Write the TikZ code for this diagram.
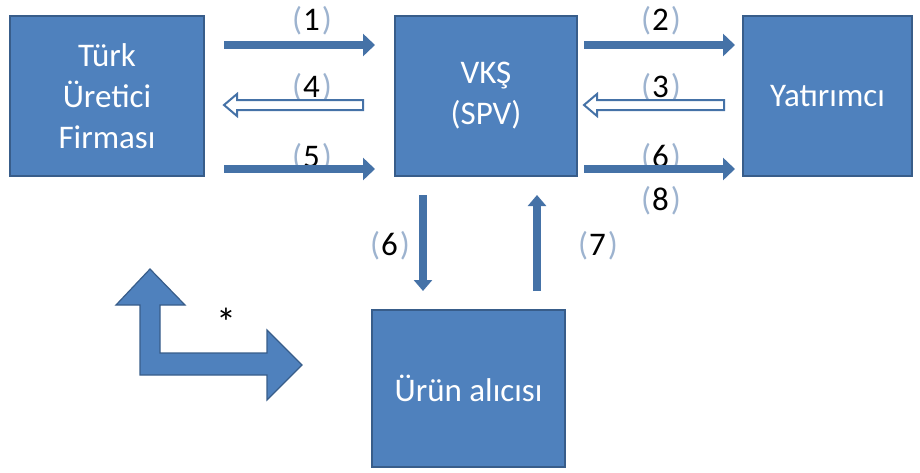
\documentclass[tikz,border=0pt]{standalone}
\usepackage{fontspec}
\setmainfont{Carlito}
\usetikzlibrary{arrows.meta}
\definecolor{boxblue}{HTML}{4F81BD}
\definecolor{boxedge}{HTML}{385D8A}
\definecolor{arrowblue}{HTML}{4572A7}
\definecolor{parencol}{HTML}{9DB3CF}
% step number in light brackets
\newcommand{\stepno}[1]{\textcolor{parencol}{(}\kern1pt#1\kern2pt\textcolor{parencol}{)}}
\begin{document}
\begin{tikzpicture}[x=1pt,y=-1pt,
  box/.style={fill=boxblue, draw=boxedge, line width=1.5pt, text=white,
    align=center, inner sep=0pt, font=\fontsize{33}{41}\selectfont},
  lbl/.style={anchor=base, inner sep=0pt, text=black, font=\fontsize{33}{41}\selectfont},
  solidarrow/.style={draw=arrowblue, line width=7.5pt, -{Triangle[width=22pt,length=12pt]}},
  vertarrow/.style={draw=arrowblue, line width=8pt, -{Triangle[width=18pt,length=11pt]}},
  hollowarrow/.style={fill=white, draw=arrowblue, line width=2pt, line join=miter},
  bentarrow/.style={fill=boxblue, draw=boxedge, line width=1.2pt, line join=miter}
]
\useasboundingbox (0,0) rectangle (920,472);

% main boxes
\node[box, minimum width=194pt, minimum height=160pt] (turk) at (107,96)
  {Türk\\Üretici\\Firması};
\node[box, minimum width=182pt, minimum height=160pt] (vks) at (486,96)
  {VKŞ\\(SPV)};
\node[box, minimum width=169pt, minimum height=160pt] (yat) at (827.5,96)
  {Yatırımcı};
\node[box, minimum width=193pt, minimum height=157pt] (urun) at (468.5,388.5)
  {Ürün alıcısı};

% step labels
\node[lbl] (l1) at (312,30) {\stepno{1}};
\node[lbl] (l4) at (312,97) {\stepno{4}};
\node[lbl] (l5) at (312,167) {\stepno{5}};
\node[lbl] (l2) at (661,30) {\stepno{2}};
\node[lbl] (l3) at (661,97) {\stepno{3}};
\node[lbl] (l6) at (661,167) {\stepno{6}};
\node[lbl] (l8) at (661,210) {\stepno{8}};
\node[lbl] (l6b) at (390,255) {\stepno{6}};
\node[lbl] (l7) at (598,255) {\stepno{7}};

% arrow end points
\coordinate (a1s) at (224,45);  \coordinate (a1e) at (375,45);
\coordinate (a4s) at (363,105); \coordinate (a4e) at (224,105);
\coordinate (a5s) at (224,169); \coordinate (a5e) at (375,169);
\coordinate (a2s) at (584,45);  \coordinate (a2e) at (735,45);
\coordinate (a3s) at (724,105); \coordinate (a3e) at (584,105);
\coordinate (a6s) at (584,169); \coordinate (a6e) at (735,169);
\coordinate (d6s) at (423,195); \coordinate (d6e) at (423,291);
\coordinate (u7s) at (537,291); \coordinate (u7e) at (537,195);

% solid arrows
\draw[solidarrow] (a1s) -- (a1e);
\draw[solidarrow] (a5s) -- (a5e);
\draw[solidarrow] (a2s) -- (a2e);
\draw[solidarrow] (a6s) -- (a6e);
\draw[vertarrow] (d6s) -- (d6e);
\draw[vertarrow] (u7s) -- (u7e);

% hollow arrows
\draw[hollowarrow] (a4s) ++(0,-5) -- ++(-126,0) -- ++(0,-6) -- (a4e)
  -- ++(13,11) -- ++(0,-6) -- ++(126,0) -- cycle;
\draw[hollowarrow] (a3s) ++(0,-5) -- ++(-127,0) -- ++(0,-6) -- (a3e)
  -- ++(13,11) -- ++(0,-6) -- ++(127,0) -- cycle;

% bent two-way arrow
\draw[bentarrow] (150,269) -- (185,305) -- (160,305) -- (160,353) -- (267,353)
  -- (267,330) -- (302,365) -- (267,400) -- (267,375) -- (140,375)
  -- (140,305) -- (116,305) -- cycle;

\node[inner sep=0pt, font=\fontsize{40}{44}\selectfont] (star) at (226,322) {*};
\end{tikzpicture}
\end{document}
